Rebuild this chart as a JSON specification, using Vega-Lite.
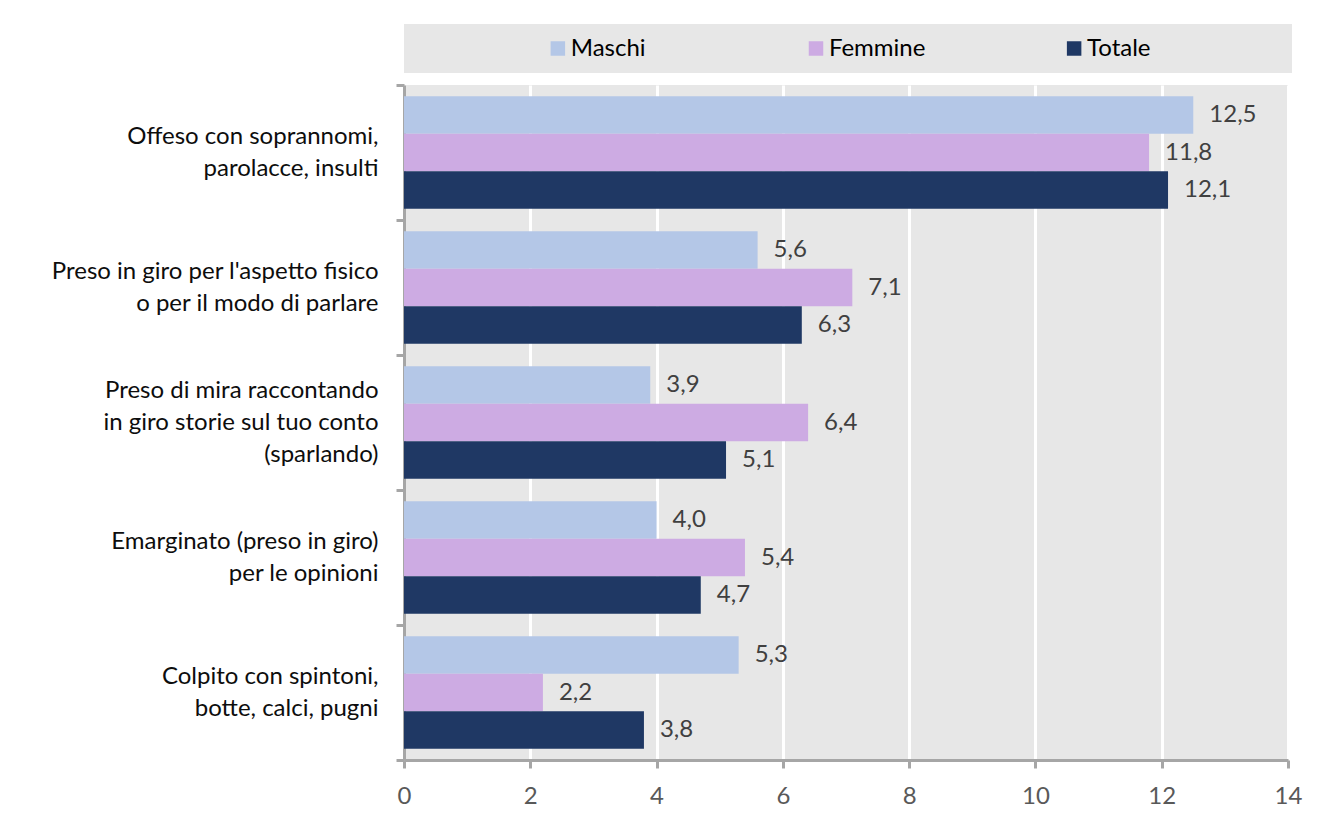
{
  "$schema": "https://vega.github.io/schema/vega-lite/v6.json",
  "padding": {"top": 24, "left": 50, "right": 20, "bottom": 10},
  "background": "white",
  "bounds": "flush",
  "spacing": 12,
  "config": {
    "font": "Lato",
    "locale": {"number": {"decimal": ",", "thousands": ".", "grouping": [3], "currency": ["€", ""]}}
  },
  "datasets": {
    "dati": [
      {"categoria": "Offeso con soprannomi,\nparolacce, insulti", "serie": "Maschi", "valore": 12.5},
      {"categoria": "Offeso con soprannomi,\nparolacce, insulti", "serie": "Femmine", "valore": 11.8},
      {"categoria": "Offeso con soprannomi,\nparolacce, insulti", "serie": "Totale", "valore": 12.1},
      {"categoria": "Preso in giro per l'aspetto fisico\no per il modo di parlare", "serie": "Maschi", "valore": 5.6},
      {"categoria": "Preso in giro per l'aspetto fisico\no per il modo di parlare", "serie": "Femmine", "valore": 7.1},
      {"categoria": "Preso in giro per l'aspetto fisico\no per il modo di parlare", "serie": "Totale", "valore": 6.3},
      {"categoria": "Preso di mira raccontando\nin giro storie sul tuo conto\n(sparlando)", "serie": "Maschi", "valore": 3.9},
      {"categoria": "Preso di mira raccontando\nin giro storie sul tuo conto\n(sparlando)", "serie": "Femmine", "valore": 6.4},
      {"categoria": "Preso di mira raccontando\nin giro storie sul tuo conto\n(sparlando)", "serie": "Totale", "valore": 5.1},
      {"categoria": "Emarginato (preso in giro)\nper le opinioni", "serie": "Maschi", "valore": 4.0},
      {"categoria": "Emarginato (preso in giro)\nper le opinioni", "serie": "Femmine", "valore": 5.4},
      {"categoria": "Emarginato (preso in giro)\nper le opinioni", "serie": "Totale", "valore": 4.7},
      {"categoria": "Colpito con spintoni,\nbotte, calci, pugni", "serie": "Maschi", "valore": 5.3},
      {"categoria": "Colpito con spintoni,\nbotte, calci, pugni", "serie": "Femmine", "valore": 2.2},
      {"categoria": "Colpito con spintoni,\nbotte, calci, pugni", "serie": "Totale", "valore": 3.8}
    ],
    "serie": [
      {"serie": "Maschi"},
      {"serie": "Femmine"},
      {"serie": "Totale"}
    ]
  },
  "vconcat": [
    {
      "width": 888,
      "height": 49,
      "view": {"fill": "#e7e7e7", "stroke": null},
      "data": {"name": "serie"},
      "layer": [
        {
          "mark": {"type": "square", "size": 210, "opacity": 1, "filled": true},
          "encoding": {
            "x": {"field": "serie", "type": "nominal", "sort": ["Maschi", "Femmine", "Totale"], "bandPosition": 0.376, "scale": {"type": "band", "paddingInner": 0, "paddingOuter": 0.22}, "axis": null},
            "color": {"field": "serie", "type": "nominal", "sort": ["Maschi", "Femmine", "Totale"], "scale": {"domain": ["Maschi", "Femmine", "Totale"], "range": ["#b4c7e7", "#cdabe3", "#1f3864"]}, "legend": null}
          }
        },
        {
          "mark": {"type": "text", "align": "left", "baseline": "middle", "fontSize": 24, "color": "#000000"},
          "encoding": {
            "x": {"field": "serie", "type": "nominal", "sort": ["Maschi", "Femmine", "Totale"], "bandPosition": 0.426, "scale": {"type": "band", "paddingInner": 0, "paddingOuter": 0.22}, "axis": null},
            "text": {"field": "serie", "type": "nominal"}
          }
        }
      ]
    },
    {
      "width": 884,
      "height": 675,
      "view": {"fill": "#e7e7e7", "stroke": null},
      "data": {"name": "dati"},
      "encoding": {
        "y": {
          "field": "categoria", "type": "nominal", "sort": null, "title": null,
          "scale": {"paddingInner": 0, "paddingOuter": 0},
          "axis": {
            "domainColor": "#a6a6a6", "domainWidth": 3,
            "tickColor": "#a6a6a6", "tickWidth": 3, "tickSize": 8, "tickBand": "extent",
            "labelPadding": 18, "labelFontSize": 24, "labelColor": "#0d0d0d",
            "labelExpr": "split(datum.label, '\\n')", "labelLineHeight": 32, "labelLimit": 600,
            "labelBaseline": "middle", "grid": false,
            "labelOffset": {"condition": {"test": "length(split(datum.label, '\\n')) == 3", "value": -32}, "value": -16}
          }
        },
        "yOffset": {
          "field": "serie", "type": "nominal", "sort": ["Maschi", "Femmine", "Totale"],
          "scale": {"paddingInner": 0, "paddingOuter": 0.3}
        },
        "x": {
          "field": "valore", "type": "quantitative", "title": null,
          "scale": {"domain": [0, 14], "nice": false},
          "axis": {
            "values": [0, 2, 4, 6, 8, 10, 12, 14],
            "domainColor": "#a6a6a6", "domainWidth": 3,
            "tickColor": "#a6a6a6", "tickWidth": 3, "tickSize": 8,
            "labelFontSize": 24, "labelColor": "#595959", "labelPadding": 16, "labelFlush": false,
            "grid": true, "gridColor": "#ffffff", "gridWidth": 3
          }
        }
      },
      "layer": [
        {
          "mark": {"type": "bar"},
          "encoding": {
            "color": {"field": "serie", "type": "nominal", "sort": ["Maschi", "Femmine", "Totale"], "scale": {"domain": ["Maschi", "Femmine", "Totale"], "range": ["#b4c7e7", "#cdabe3", "#1f3864"]}, "legend": null}
          }
        },
        {
          "mark": {"type": "text", "align": "left", "baseline": "middle", "dx": 16, "fontSize": 24, "color": "#404040"},
          "encoding": {
            "text": {"field": "valore", "type": "quantitative", "format": ".1f"}
          }
        }
      ]
    }
  ]
}
